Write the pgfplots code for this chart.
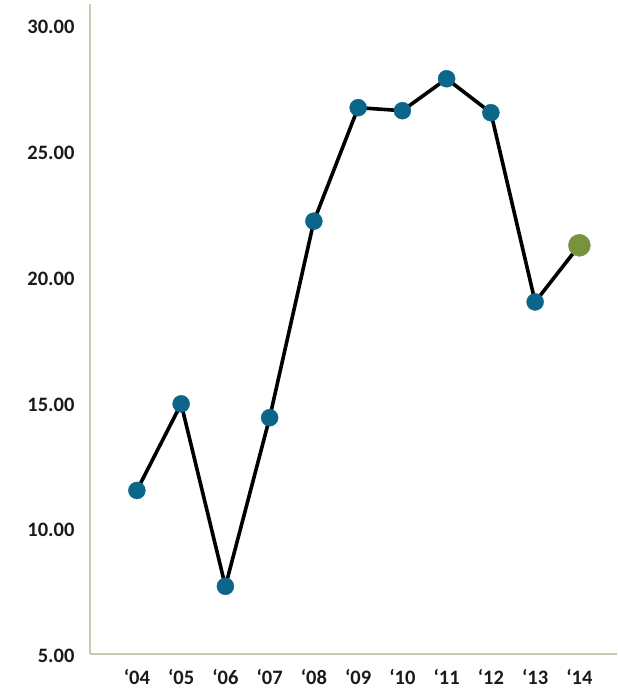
\documentclass[border=0pt]{standalone}
\usepackage{pgfplots}
\pgfplotsset{compat=1.18}
\usepackage{fontspec}
\setmainfont{Carlito}
\definecolor{axisc}{HTML}{C8CAB0}
\definecolor{ptblue}{HTML}{0B6689}
\definecolor{ptgreen}{HTML}{77933C}
\definecolor{lbl}{HTML}{1A1A1A}
\begin{document}
\begin{tikzpicture}
\begin{axis}[
  scale only axis,
  width=527pt, height=650pt,
  xmin=-1.06, xmax=10.85,
  ymin=5, ymax=30.83,
  axis lines=left,
  axis line style={axisc, line width=2pt, -},
  xtick={0,1,2,3,4,5,6,7,8,9,10},
  xticklabels={‘04,‘05,‘06,‘07,‘08,‘09,‘10,‘11,‘12,‘13,‘14},
  ytick={5,10,15,20,25,30},
  yticklabel={\pgfmathprintnumber[fixed,fixed zerofill,precision=2]{\tick}},
  /pgf/number format/assume math mode=true,
  major tick length=0pt,
  tick label style={font=\fontsize{20.5}{24}\selectfont\bfseries, text=lbl},
  yticklabel style={xshift=-12pt, yshift=-2pt},
  xticklabel style={yshift=-12pt},
  clip=false,
]
\addplot[black, line width=3.6pt, no marks] coordinates {
 (0,11.50) (1,14.94) (2,7.69) (3,14.39) (4,22.20) (5,26.71) (6,26.59) (7,27.86) (8,26.51) (9,18.99) (10,21.24)};
\addplot[only marks, mark=*, mark size=8.5pt, mark options={fill=ptblue, draw=ptblue}] coordinates {
 (0,11.50) (1,14.94) (2,7.69) (3,14.39) (4,22.20) (5,26.71) (6,26.59) (7,27.86) (8,26.51) (9,18.99)};
\addplot[only marks, mark=*, mark size=11pt, mark options={fill=ptgreen, draw=ptgreen}] coordinates {
 (10,21.24)};
\coordinate (SW) at (rel axis cs:0,0);
\coordinate (NE) at (rel axis cs:1,1);
\end{axis}
\path ([shift={(-90pt,-37pt)}]SW) rectangle ([shift={(0pt,4pt)}]NE);
\end{tikzpicture}
\end{document}
